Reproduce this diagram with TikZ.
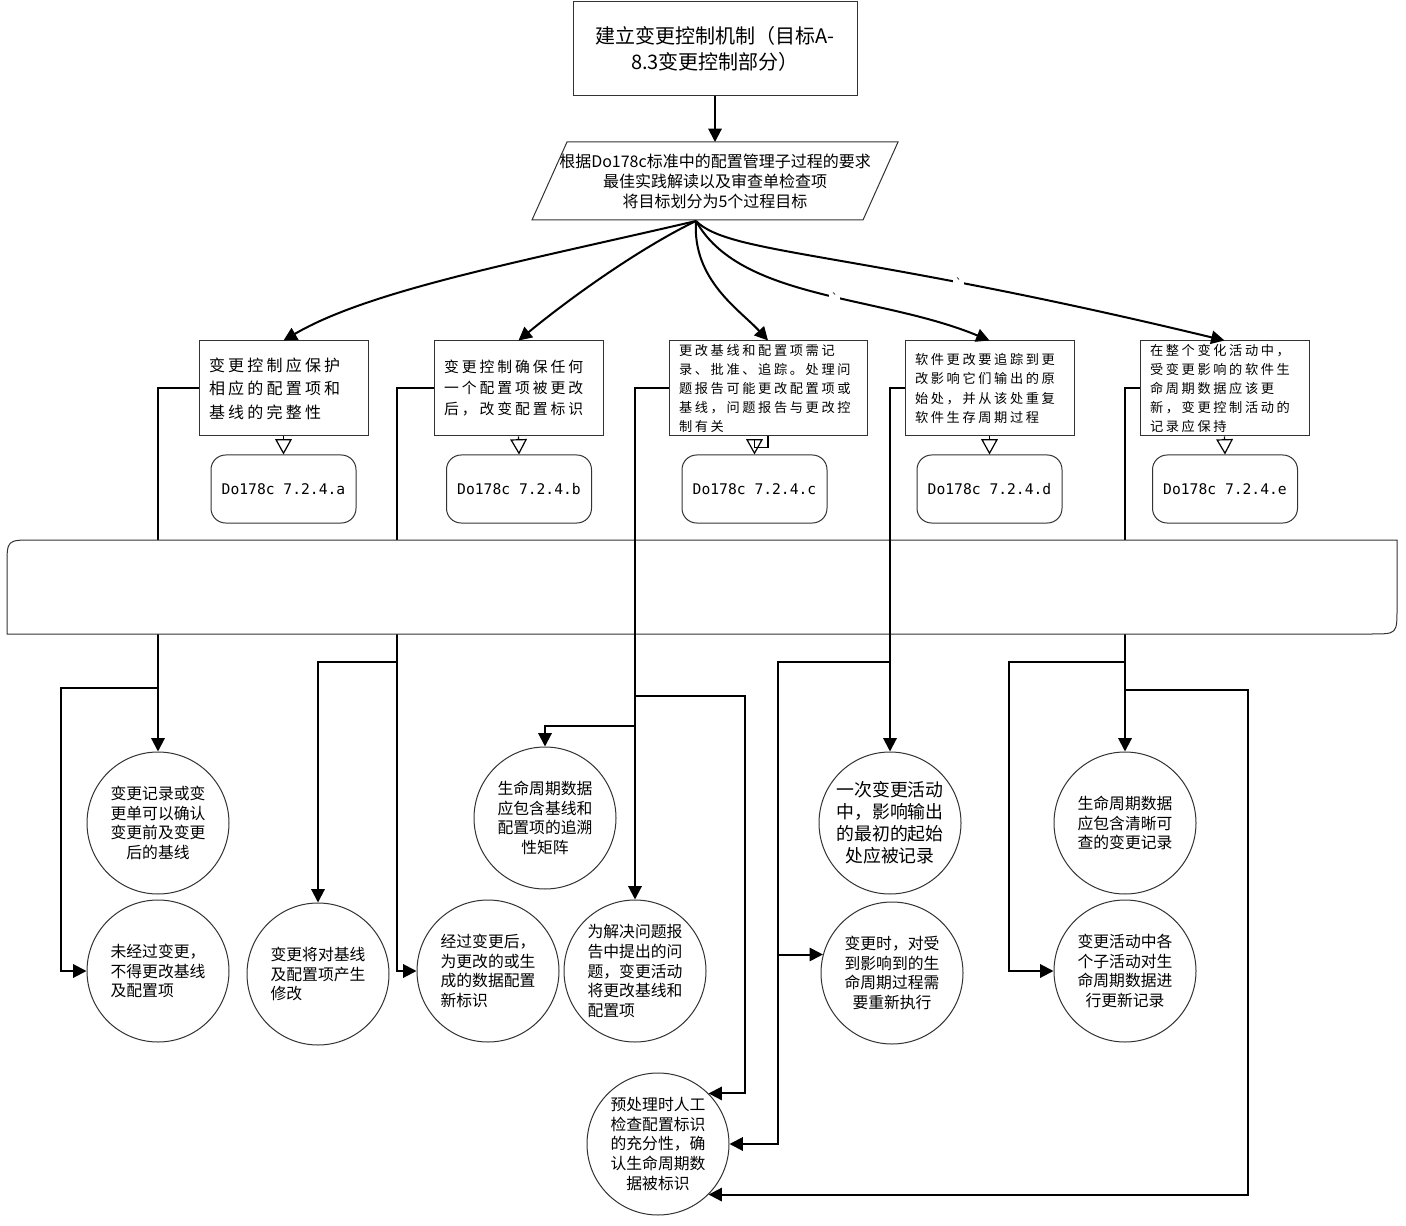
\documentclass[tikz,border=0pt]{standalone}
\usepackage{fontspec}
\setmainfont{Noto Sans CJK SC}
\setmonofont{DejaVu Sans Mono}
\newfontfamily\kaifont[LetterSpace=20]{Noto Sans CJK SC}
\usetikzlibrary{arrows.meta,calc}

\tikzset{
  frame/.style={draw=black!80, line width=0.75pt, fill=white},
  goalbox/.style={frame, minimum height=71.25pt, inner xsep=7.5pt, inner ysep=0pt,
    text width=111.75pt, align=left},
  refbox/.style={frame, rounded corners=11pt, minimum width=108.75pt, minimum height=51pt,
    font=\ttfamily\fontsize{11pt}{13pt}\selectfont},
  bubble/.style={frame, circle, minimum size=106.5pt, inner sep=0pt, align=center,
    font=\fontsize{11.85pt}{14.8pt}\selectfont},
  link/.style={line width=1.5pt, -{Triangle[length=10pt,width=10pt]}},
  hollow/.style={line width=0.9pt, -{Triangle[open,length=11.5pt,width=12.5pt]}},
  tick/.style={fill=white, inner sep=1.5pt, font=\ttfamily\fontsize{9pt}{9pt}\selectfont},
}

\begin{document}
\begin{tikzpicture}[x=0.75pt,y=-0.75pt]
\useasboundingbox (0,0) rectangle (1406,1226);

% title and source of the five objectives
\node[frame, minimum width=213pt, minimum height=70.5pt, align=center,
  font=\fontsize{15pt}{20pt}\selectfont] (top) at (715,49)
  {建立变更控制机制（目标A-\\8.3变更控制部分）};
\draw[frame] (567,142) -- (898,142) -- (863,220) -- (532,220) -- cycle;
\node[align=center, font=\fontsize{12pt}{15pt}\selectfont] (para) at (715,181)
  {根据Do178c标准中的配置管理子过程的要求\\最佳实践解读以及审查单检查项\\将目标划分为5个过程目标};
\coordinate (ptop) at (715,142);
\coordinate (pbot) at (696,221);

% the five process objectives
\node[goalbox, font=\kaifont\fontsize{12pt}{17.6pt}\selectfont] (g1) at (283.5,388.5)
  {变更控制应保护\\相应的配置项和\\基线的完整性};
\node[goalbox, font=\kaifont\fontsize{11.1pt}{15.75pt}\selectfont] (g2) at (518.5,388.5)
  {变更控制确保任何\\一个配置项被更改\\后，改变配置标识};
\node[goalbox, text width=133.5pt, font=\kaifont\fontsize{9.9pt}{14.25pt}\selectfont] (g3) at (768,388.5)
  {更改基线和配置项需记\\录、批准、追踪。处理问\\题报告可能更改配置项或\\基线，问题报告与更改控\\制有关};
\node[goalbox, font=\kaifont\fontsize{9.9pt}{14.6pt}\selectfont] (g4) at (989.5,388.5)
  {软件更改要追踪到更\\改影响它们输出的原\\始处，并从该处重复\\软件生存周期过程};
\node[goalbox, font=\kaifont\fontsize{9.9pt}{14.25pt}\selectfont] (g5) at (1224.5,388.5)
  {在整个变化活动中，\\受变更影响的软件生\\命周期数据应该更\\新，变更控制活动的\\记录应保持};

% standard references
\node[refbox] (ra) at (283.5,489) {Do178c 7.2.4.a};
\node[refbox] (rb) at (519,489) {Do178c 7.2.4.b};
\node[refbox] (rc) at (754.5,489) {Do178c 7.2.4.c};
\node[refbox] (rd) at (989.5,489) {Do178c 7.2.4.d};
\node[refbox] (re) at (1225,489) {Do178c 7.2.4.e};

% activities
\node[bubble] (cA1) at (158,823) {变更记录或变\\更单可以确认\\变更前及变更\\后的基线};
\node[bubble, align=left] (cA2) at (158,971) {未经过变更，\\不得更改基线\\及配置项};
\node[bubble, align=left] (cB1) at (318,974) {变更将对基线\\及配置项产生\\修改};
\node[bubble, align=left] (cB2) at (488,971) {经过变更后，\\为更改的或生\\成的数据配置\\新标识};
\node[bubble] (cC1) at (545,818) {生命周期数据\\应包含基线和\\配置项的追溯\\性矩阵};
\node[bubble, align=left] (cC2) at (635,971) {为解决问题报\\告中提出的问\\题，变更活动\\将更改基线和\\配置项};
\node[bubble, font=\fontsize{13.4pt}{16.5pt}\selectfont] (cD1) at (890,823) {一次变更活动\\中，影响输出\\的最初的起始\\处应被记录};
\node[bubble] (cD2) at (892,973) {变更时，对受\\到影响到的生\\命周期过程需\\要重新执行};
\node[bubble] (cE1) at (1125,823) {生命周期数据\\应包含清晰可\\查的变更记录};
\node[bubble] (cE2) at (1125,971) {变更活动中各\\个子活动对生\\命周期数据进\\行更新记录};
\node[bubble] (cP) at (658,1144) {预处理时人工\\检查配置标识\\的充分性，确\\认生命周期数\\据被标识};

% top connectors
\draw[link] (top.south) -- (ptop);
\draw[link] (pbot) .. controls (520,262) and (370,290) .. (g1.north);
\draw[link] (pbot) .. controls (640,248) and (570,298) .. (g2.north);
\draw[link] (pbot) .. controls (692,280) and (740,310) .. (g3.north);
\draw[link] (pbot) .. controls (740,300) and (880,295) .. node[tick, pos=0.55] {`} (g4.north);
\draw[link] (pbot) .. controls (730,255) and (850,250) .. node[tick, pos=0.71] {`} (g5.north);

% objective -> reference
\draw[hollow] (g1.south) -- (ra.north);
\draw[hollow] (g2.south) -- (rb.north);
\draw[hollow] (g3.south) -- ++(0,11) -| (rc.north);
\draw[hollow] (g4.south) -- (rd.north);
\draw[hollow] (g5.south) -- (re.north);

% trunks passing behind the band
\coordinate (t2) at (397,0);
\draw[link] (g1.west) -| (cA1.north);
\draw[link] (g2.west) -- (g2.west -| t2) |- (cB2.west);
\draw[link] (g5.west) -| (cE1.north);

% band
\filldraw[frame] (7,634) -- (7,566) .. controls (7,540) .. (33,540) -- (1397,540)
  -- (1397,608) .. controls (1397,634) .. (1371,634) -- cycle;

% trunks passing over the band
\draw[link] (g3.west) -| (cC2.north);
\draw[link] (g4.west) -| (cD1.north);

% branches
\coordinate (j1) at (158,688);  \coordinate (k1) at (61,688);
\coordinate (j2) at (397,662);
\coordinate (j3a) at (635,726);
\coordinate (j3b) at (635,696); \coordinate (k3) at (745,696);
\coordinate (j4) at (890,662);  \coordinate (v4) at (778,662);
\coordinate (j5a) at (1125,662); \coordinate (k5a) at (1009,662);
\coordinate (j5b) at (1125,690); \coordinate (k5b) at (1248,690);

\draw[link] (j1) -- (k1) |- (cA2.west);
\draw[link] (j2) -| (cB1.north);
\draw[link] (j3a) -| (cC1.north);
\draw[link] (j3b) -- (k3) |- (cP.45);
\draw[link] (j4) -- (v4) |- (cP.east);
\draw[link] (v4 |- cD2.165) -- (cD2.165);
\draw[link] (j5a) -- (k5a) |- (cE2.west);
\draw[link] (j5b) -- (k5b) |- (cP.-45);
\end{tikzpicture}
\end{document}
